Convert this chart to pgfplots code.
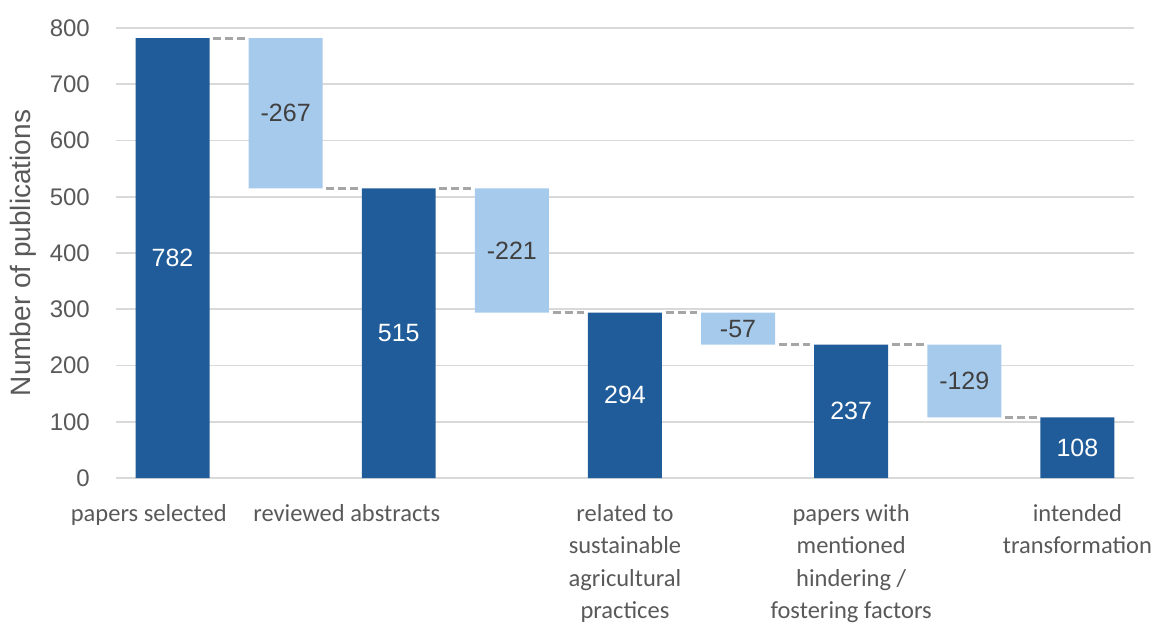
\documentclass[border=0pt]{standalone}
\usepackage{fontspec}
\setmainfont{Liberation Sans}
\newfontfamily\catfont{Carlito}
\usepackage{pgfplots}
\usepackage{pgfplotstable}
\pgfplotsset{compat=1.18}
\definecolor{darkb}{HTML}{1F5C99}
\definecolor{lightb}{HTML}{A6CAEC}
\definecolor{txt}{HTML}{595959}
\definecolor{vtxt}{HTML}{404040}
\definecolor{gridc}{HTML}{D9D9D9}
\definecolor{conn}{HTML}{A6A6A6}

\pgfplotstableread{
x base dark light
0 0   782 0
1 515 0   267
2 0   515 0
3 294 0   221
4 0   294 0
5 237 0   57
6 0   237 0
7 108 0   129
8 0   108 0
}\bars

\pgfplotstableread{
x y lab
0 391 782
2 257.5 515
4 147 294
6 118.5 237
8 54 108
}\darklabels

\pgfplotstableread{
x y lab
1 648.5 -267
3 404.5 -221
5 265.5 -57
7 172.5 -129
}\lightlabels

\pgfplotstableread{
x y
0.36 782
0.64 782
0.5 nan
1.36 515
1.64 515
1.5 nan
2.36 515
2.64 515
2.5 nan
3.36 294
3.64 294
3.5 nan
4.36 294
4.64 294
4.5 nan
5.36 237
5.64 237
5.5 nan
6.36 237
6.64 237
6.5 nan
7.36 108
7.64 108
}\connectors

\begin{document}
\begin{tikzpicture}
\begin{axis}[
  name=ax,
  scale only axis,
  width=1018bp, height=450bp,
  xmin=-0.5, xmax=8.5, ymin=0, ymax=800,
  ybar stacked, bar width=0.654,
  ytick={0,100,...,800},
  xtick={-0.21,1.54,4,6,8},
  xticklabels={papers selected, reviewed abstracts, related to\\sustainable\\agricultural\\practices, papers with\\mentioned\\hindering /\\fostering factors, intended\\transformation},
  ymajorgrids,
  grid style={line width=1.6bp, gridc},
  axis line style={draw=none},
  major tick length=0pt,
  /pgf/number format/assume math mode=true,
  yticklabel style={font=\fontsize{24bp}{28bp}\selectfont, text=txt, inner sep=0pt, anchor=east, xshift=-26bp},
  xticklabel style={font=\catfont\fontsize{24.5bp}{32.5bp}\selectfont, text=txt, align=center, inner sep=0pt, anchor=north, yshift=-26bp},
  ylabel={Number of publications},
  ylabel style={at={(axis description cs:-0.0914,0.5)}, anchor=center, font=\fontsize{28bp}{32bp}\selectfont, text=txt},
]
\addplot[draw=none, fill=none] table[x=x, y=base] {\bars};
\addplot[draw=none, fill=darkb] table[x=x, y=dark] {\bars};
\addplot[draw=none, fill=lightb] table[x=x, y=light] {\bars};
\end{axis}
\begin{axis}[
  scale only axis,
  width=1018bp, height=450bp,
  xmin=-0.5, xmax=8.5, ymin=0, ymax=800,
  hide axis,
  unbounded coords=jump,
]
\addplot[conn, line width=3bp, dash pattern=on 8bp off 4bp] table[x=x, y=y] {\connectors};
\addplot[only marks, mark=*, mark size=0pt, mark options={draw=none, fill=none},
  nodes near coords, point meta=explicit symbolic,
  every node near coord/.append style={anchor=center, text=white, font=\fontsize{25bp}{30bp}\selectfont}]
  table[x=x, y=y, meta=lab] {\darklabels};
\addplot[only marks, mark=*, mark size=0pt, mark options={draw=none, fill=none},
  nodes near coords, point meta=explicit symbolic,
  every node near coord/.append style={anchor=center, text=vtxt, font=\fontsize{25bp}{30bp}\selectfont}]
  table[x=x, y=y, meta=lab] {\lightlabels};
\end{axis}
\pgfresetboundingbox
\path (ax.south west) ++(-116bp,-146bp) rectangle ++(1162bp,624bp);
\end{tikzpicture}
\end{document}
